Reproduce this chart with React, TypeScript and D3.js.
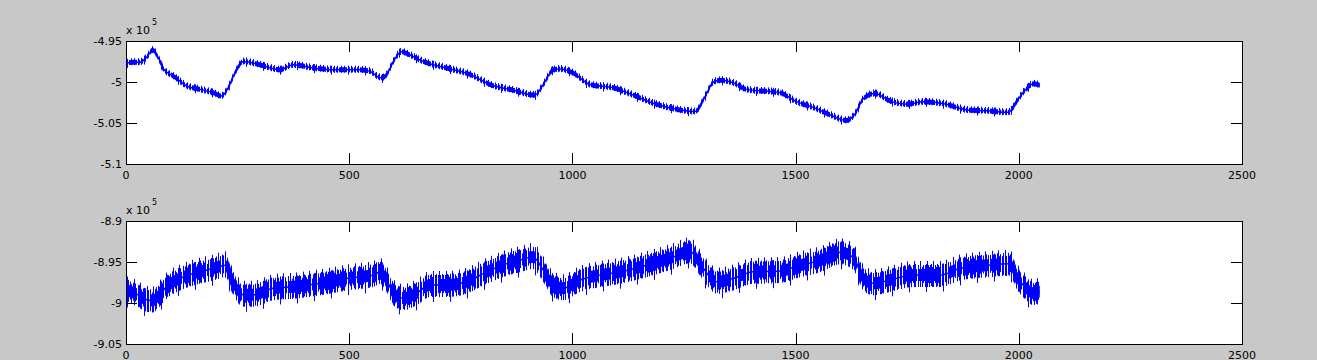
import React from 'react'
import * as d3 from 'd3'

// tick labels (values shown in units of 10^5)
const xTicks = [0, 500, 1000, 1500, 2000, 2500]
const topYTicks = [-5.1, -5.05, -5, -4.95]
const bottomYTicks = [-9.05, -9, -8.95, -8.9]

// upper subplot: sample index -> value (x 1e5)
const topSamples = [0, 15, 31, 46, 60, 72, 84, 100, 113, 136, 166, 196, 214, 229, 244, 263, 300, 345, 375, 420, 464, 524, 547, 565, 575, 584, 599, 617, 636, 666, 718, 771, 815, 868, 916, 935, 957, 972, 1002, 1039, 1092, 1136, 1181, 1241, 1275, 1297, 1316, 1331, 1360, 1390, 1465, 1502, 1540, 1577, 1614, 1633, 1652, 1678, 1711, 1749, 1786, 1838, 1883, 1928, 1977, 1995, 2014, 2033, 2047]
const topValues = [-4.977, -4.976, -4.976, -4.970, -4.961, -4.970, -4.984, -4.991, -4.9955, -5.005, -5.009, -5.013, -5.017, -5.007, -4.989, -4.975, -4.979, -4.985, -4.979, -4.983, -4.985, -4.985, -4.987, -4.994, -4.995, -4.991, -4.975, -4.963, -4.967, -4.975, -4.983, -4.991, -5.003, -5.010, -5.016, -5.003, -4.985, -4.984, -4.989, -5.003, -5.007, -5.016, -5.026, -5.034, -5.036, -5.018, -5.000, -4.998, -5.001, -5.009, -5.013, -5.024, -5.031, -5.040, -5.047, -5.039, -5.020, -5.014, -5.023, -5.027, -5.024, -5.027, -5.034, -5.035, -5.037, -5.024, -5.010, -5.002, -5.004]

// lower subplot: centre of the noisy band
const bottomSamples = [0, 20, 46, 60, 75, 91, 121, 151, 196, 222, 237, 263, 285, 330, 382, 435, 494, 554, 569, 584, 599, 621, 651, 681, 718, 763, 808, 853, 882, 912, 935, 957, 979, 1017, 1062, 1107, 1166, 1226, 1263, 1286, 1308, 1323, 1360, 1405, 1465, 1510, 1555, 1600, 1630, 1652, 1675, 1711, 1764, 1823, 1868, 1928, 1980, 1995, 2017, 2032, 2047]
const bottomValues = [-8.984, -8.988, -8.996, -8.997, -8.990, -8.980, -8.970, -8.964, -8.958, -8.954, -8.972, -8.990, -8.990, -8.982, -8.980, -8.976, -8.970, -8.966, -8.962, -8.972, -8.988, -8.994, -8.988, -8.978, -8.978, -8.974, -8.962, -8.952, -8.948, -8.944, -8.960, -8.978, -8.982, -8.972, -8.966, -8.962, -8.954, -8.944, -8.937, -8.952, -8.968, -8.974, -8.970, -8.962, -8.961, -8.954, -8.948, -8.938, -8.945, -8.970, -8.976, -8.972, -8.966, -8.966, -8.958, -8.954, -8.952, -8.968, -8.982, -8.988, -8.986]

const W = 1317
const H = 360
const LEFT = 126
const RIGHT = 1242
const FONT = 'DejaVu Sans, sans-serif'
const BLUE = '#0000ff'
const TICK = 11

// vertical-stripe patterns: tile width and stripe offsets
const patterns = [
  { id: 'pA', w: 3, xs: [0, 1] },
  { id: 'pB', w: 5, xs: [0, 3] },
  { id: 'pC', w: 7, xs: [1, 5] },
  { id: 'pD', w: 13, xs: [4, 10] },
  { id: 'pE', w: 17, xs: [8] },
  { id: 'pF', w: 11, xs: [2, 7] },
]

// bands drawn round the trace: half height (px), vertical shift, pattern
const topBands = [
  { h: 2.5, dy: 0, p: 'pA' },
  { h: 3.5, dy: -0.5, p: 'pC' },
  { h: 4.5, dy: 0.5, p: 'pE' },
]
const bottomBands = [
  { h: 6, dy: 0, p: 'pA' },
  { h: 9, dy: -1, p: 'pB' },
  { h: 10, dy: 2, p: 'pC' },
  { h: 13, dy: -1, p: 'pD' },
  { h: 14, dy: 3, p: 'pE' },
  { h: 11, dy: 0, p: 'pF' },
]

type Band = { h: number; dy: number; p: string }
type PanelProps = {
  id: string
  top: number
  bottom: number
  samples: number[]
  values: number[]
  yTicks: number[]
  bands: Band[]
  core: number
}

function Panel({ id, top, bottom, samples, values, yTicks, bands, core }: PanelProps) {
  const x = d3.scaleLinear().domain([0, 2500]).range([LEFT, RIGHT])
  const y = d3.scaleLinear().domain([yTicks[0], yTicks[yTicks.length - 1]]).range([bottom, top])
  const line = d3.line<number>()
    .x((_, i) => x(samples[i]))
    .y(d => y(d))
    .curve(d3.curveMonotoneX)
  const bandPath = (b: Band) =>
    d3.area<number>()
      .x((_, i) => x(samples[i]))
      .y0(d => y(d) + b.dy + b.h)
      .y1(d => y(d) + b.dy - b.h)
      .curve(d3.curveMonotoneX)(values) || ''

  return (
    <g>
      <clipPath id={id}>
        <rect x={LEFT} y={top} width={RIGHT - LEFT} height={bottom - top} />
      </clipPath>
      <rect x={LEFT} y={top} width={RIGHT - LEFT} height={bottom - top} fill="#fff" />
      <g clipPath={`url(#${id})`}>
        {bands.map((b, i) => (
          <path key={i} d={bandPath(b)} fill={`url(#${b.p})`} />
        ))}
        <path d={line(values) || ''} fill="none" stroke={BLUE} strokeWidth={core} />
      </g>
      <g stroke="#000" strokeWidth={1} shapeRendering="crispEdges">
        {xTicks.map(t => (
          <g key={t}>
            <line x1={x(t) + 0.5} x2={x(t) + 0.5} y1={bottom} y2={bottom - TICK} />
            <line x1={x(t) + 0.5} x2={x(t) + 0.5} y1={top} y2={top + TICK} />
          </g>
        ))}
        {yTicks.map(t => (
          <g key={t}>
            <line x1={LEFT} x2={LEFT + TICK} y1={y(t) + 0.5} y2={y(t) + 0.5} />
            <line x1={RIGHT} x2={RIGHT - TICK} y1={y(t) + 0.5} y2={y(t) + 0.5} />
          </g>
        ))}
        <rect x={LEFT + 0.5} y={top + 0.5} width={RIGHT - LEFT} height={bottom - top} fill="none" />
      </g>
      <g fontFamily={FONT} fontSize={11} fill="#000">
        {xTicks.map(t => (
          <text key={t} x={x(t)} y={bottom + 15} textAnchor="middle">{String(t)}</text>
        ))}
        {yTicks.map(t => (
          <text key={t} x={LEFT - 4} y={y(t) + 4} textAnchor="end">{String(t)}</text>
        ))}
        <text x={LEFT} y={top - 7}>x 10</text>
        <text x={LEFT + 26} y={top - 16} fontSize={8}>5</text>
      </g>
    </g>
  )
}

export default function App() {
  return (
    <svg width={W} height={H} style={{ position: 'absolute', left: 0, top: 0, background: '#c8c8c8' }}>
      <defs>
        {patterns.map(p => (
          <pattern key={p.id} id={p.id} width={p.w} height={10} patternUnits="userSpaceOnUse">
            {p.xs.map(px => (
              <rect key={px} x={px} y={0} width={1} height={10} fill={BLUE} />
            ))}
          </pattern>
        ))}
      </defs>
      <rect width={W} height={H} fill="#c8c8c8" />
      <Panel id="c1" top={41} bottom={164} samples={topSamples} values={topValues}
        yTicks={topYTicks} bands={topBands} core={1.5} />
      <Panel id="c2" top={221} bottom={344} samples={bottomSamples} values={bottomValues}
        yTicks={bottomYTicks} bands={bottomBands} core={1.5} />
    </svg>
  )
}
